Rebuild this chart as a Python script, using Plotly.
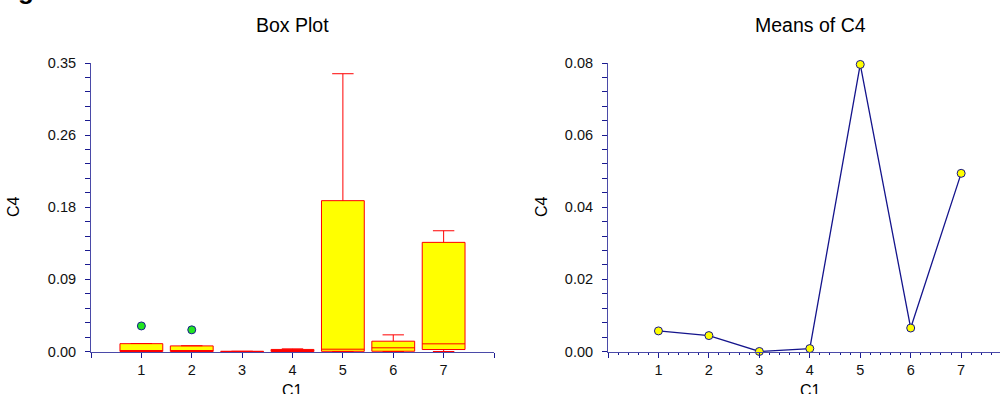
import plotly.graph_objects as go

# Group labels (C1) and C4 summary statistics per group
groups = [1, 2, 3, 4, 5, 6, 7]
q1 = [0.0, 0.0, 0.0, 0.0, 0.0002, 0.0003, 0.0024]
median = [0.0003, 0.0002, 0.0001, 0.0010, 0.0028, 0.0045, 0.0093]
q3 = [0.0095, 0.0068, 0.0002, 0.0025, 0.1830, 0.0125, 0.1324]
lower_fence = [0.0, 0.0, 0.0, 0.0, 0.0, 0.0, 0.0]
upper_fence = [0.0097, 0.0070, 0.0003, 0.0032, 0.3370, 0.0202, 0.1465]

# Outlying observations
outlier_groups = [1, 2]
outlier_values = [0.0310, 0.0263]

# Group means of C4
mean_values = [0.0057, 0.0044, 0.0000, 0.0008, 0.0796, 0.0065, 0.0494]

# Axis tick settings
box_yticks = [0.0, 0.0875, 0.175, 0.2625, 0.35]
box_yticklabels = ["0.00", "0.09", "0.18", "0.26", "0.35"]
mean_yticks = [0.0, 0.02, 0.04, 0.06, 0.08]
mean_yticklabels = ["0.00", "0.02", "0.04", "0.06", "0.08"]

W, H = 1000, 394
FONT = "Liberation Sans, Arial, sans-serif"
AXIS_LINE = "#4a4aa8"
TICK_COL = "#1a1a90"


def px_x(p):
    return p / W


def px_y(p):
    return 1 - p / H


fig = go.Figure()

fig.add_trace(go.Box(
    x=groups, q1=q1, median=median, q3=q3,
    lowerfence=lower_fence, upperfence=upper_fence,
    boxpoints=False, width=0.85, whiskerwidth=0.5,
    fillcolor="#ffff00", line=dict(color="#ff0000", width=1),
    showlegend=False, hoverinfo="skip", xaxis="x", yaxis="y",
))

fig.add_trace(go.Scatter(
    x=outlier_groups, y=outlier_values, mode="markers",
    marker=dict(size=8, color="#22e622", line=dict(color="#1a1a90", width=1)),
    showlegend=False, cliponaxis=False, xaxis="x", yaxis="y",
))

fig.add_trace(go.Scatter(
    x=groups, y=mean_values, mode="lines+markers",
    line=dict(color="#14148c", width=1.3),
    marker=dict(size=8, color="#ffff00", line=dict(color="#14148c", width=1)),
    showlegend=False, cliponaxis=False, xaxis="x2", yaxis="y2",
))

tickfont = dict(family=FONT, size=14.5, color="#111111")

common_axis = dict(
    showline=True, linecolor=AXIS_LINE, linewidth=1,
    showgrid=False, zeroline=False, ticks="outside", ticklen=5,
    tickcolor=TICK_COL, tickwidth=1, tickfont=tickfont, automargin=False,
)

y_dom = [px_y(352), px_y(63)]

fig.update_layout(
    width=W, height=H,
    margin=dict(l=0, r=0, t=0, b=0, autoexpand=False),
    paper_bgcolor="white", plot_bgcolor="white",
    xaxis=dict(
        domain=[px_x(91), px_x(494)], range=[0, 8],
        tickmode="array", tickvals=[0, 1, 2, 3, 4, 5, 6, 7, 8],
        ticktext=["", "1", "2", "3", "4", "5", "6", "7", ""],
        anchor="y", **common_axis,
    ),
    yaxis=dict(
        domain=y_dom, range=[-0.0006, 0.35],
        tickmode="array", tickvals=box_yticks, ticktext=box_yticklabels,
        minor=dict(dtick=0.0175, tick0=0, ticks="outside", ticklen=5,
                   tickcolor=TICK_COL, showgrid=False),
        ticklabelstandoff=6, anchor="x", **common_axis,
    ),
    xaxis2=dict(
        domain=[px_x(608), 1.0], range=[0, (1000 - 608) / 50.45],
        tickmode="array", tickvals=[0, 1, 2, 3, 4, 5, 6, 7],
        ticktext=["", "1", "2", "3", "4", "5", "6", "7"],
        minor=dict(dtick=0.2, tick0=0, ticks="outside", ticklen=2,
                   tickcolor=TICK_COL, showgrid=False),
        anchor="y2", **common_axis,
    ),
    yaxis2=dict(
        domain=y_dom, range=[-0.00015, 0.08],
        tickmode="array", tickvals=mean_yticks, ticktext=mean_yticklabels,
        minor=dict(dtick=0.004, tick0=0, ticks="outside", ticklen=5,
                   tickcolor=TICK_COL, showgrid=False),
        ticklabelstandoff=6, anchor="x2", **common_axis,
    ),
)

title_font = dict(family=FONT, size=19.5, color="#000000")
label_font = dict(family=FONT, size=16, color="#000000")

annotations = [
    dict(text="Box Plot", x=px_x(292), y=px_y(25), font=title_font),
    dict(text="Means of C4", x=px_x(810), y=px_y(25), font=title_font),
    dict(text="C1", x=px_x(292), y=px_y(390), font=label_font),
    dict(text="C1", x=px_x(810), y=px_y(390), font=label_font),
    dict(text="C4", x=px_x(13), y=px_y(207), font=label_font, textangle=-90),
    dict(text="C4", x=px_x(541), y=px_y(207), font=label_font, textangle=-90),
    dict(text="<b>g</b>", x=px_x(16), y=px_y(-10), xanchor="left",
         font=dict(family="Liberation Sans, Arial, sans-serif", size=26, color="#000000")),
]
for a in annotations:
    a.setdefault("xanchor", "center")
    a.setdefault("yanchor", "middle")
    fig.add_annotation(xref="paper", yref="paper", showarrow=False, **a)

fig.write_html("out.html")
